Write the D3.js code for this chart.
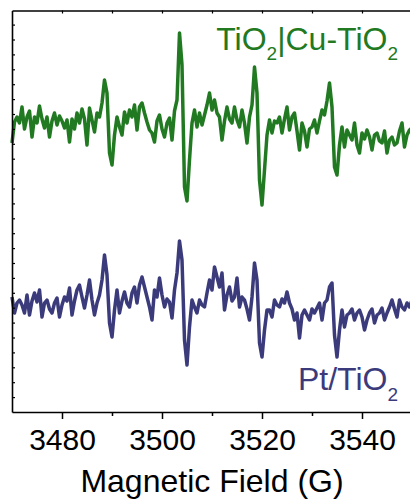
<!DOCTYPE html>
<html lang="en">
<head>
<meta charset="UTF-8">
<title>EPR spectra</title>
<script src="https://d3js.org/d3.v7.min.js"></script>
<style>
  body { margin: 0; background: #fff; }
  text { font-family: "Liberation Sans", Arial, sans-serif; }
</style>
</head>
<body>
<div id="chart"></div>
<script>
const fieldStart = 3470, fieldStep = 0.5;
const signalGreen = [
  -18,3,8,2,18,-4,8,14,-12,8,
  2,19,6,-3,8,-12,4,12,0,9,
  4,-3,5,-17,6,-4,12,2,16,6,
  -20,17,5,-7,12,8,22,45,32,-28,
  -40,-10,8,-2,-10,13,2,15,8,20,
  -5,18,22,12,3,-5,-8,-17,4,10,
  -4,-12,2,7,-15,14,25,92,60,-62,
  -76,-35,2,15,-2,12,0,10,20,32,
  15,25,12,8,-15,4,18,6,2,18,
  5,-2,15,2,-18,8,20,58,32,-55,
  -80,-45,-10,5,-8,4,2,8,-8,6,
  18,-5,8,12,-6,-25,2,-6,-22,-4,
  -2,5,-8,4,15,10,24,42,18,-42,
  -50,-20,-2,-22,-5,-10,-15,2,-20,-28,
  -8,-14,-5,-12,-25,-10,-8,-16,-18,-6,
  -28,-15,-12,-20,-18,-6,2,-22,-10,-5,
  -3];
const signalNavy = [
  8,-8,2,5,0,-8,10,-10,4,12,
  3,15,-12,2,5,-4,-8,2,7,-12,
  0,8,4,17,-10,4,15,20,8,-3,
  10,25,5,-10,2,10,25,50,30,-18,
  -32,-5,15,-8,4,13,2,-2,12,18,
  2,20,28,18,8,-2,-15,15,8,27,
  10,-2,6,3,-13,15,32,64,45,-35,
  -60,-22,5,-2,-8,5,0,-2,12,25,
  15,38,28,18,32,-5,10,18,4,8,
  27,-2,8,5,-4,-15,8,42,25,-38,
  -52,-25,-5,-5,-12,5,0,-2,6,2,
  13,2,-4,-15,-8,-33,-10,-5,-10,-15,
  -4,-8,-3,2,-15,2,5,18,22,-30,
  -52,-25,-5,-22,-10,-8,-4,-15,-8,-5,
  -12,-25,-15,-8,-4,-18,-10,-8,-3,-15,
  -8,-2,5,-4,-12,5,-2,-5,2,-2,
  5];

const xTicks = [3480, 3500, 3520, 3540];
const xMinorTicks = [3490, 3510, 3530, 3550];

// Layout
const W = 410, H = 499;
const marginL = 12, marginT = 10.5, plotR = 412, plotB = 412;
const offsetGreen = 287, offsetNavy = 107;   // vertical stacking of the two spectra
const green = "#217a21", navy = "#3b3b7c";

const svg = d3.select("#chart").append("svg")
    .attr("width", W).attr("height", H);

const x = d3.scaleLinear().domain([3470, 3550]).range([marginL, plotR]);
const y = d3.scaleLinear().domain([0, 401.5]).range([plotB, marginT]);

const line = d3.line()
    .x(d => x(d[0]))
    .y(d => y(d[1]));

const toPoints = (sig, off) => sig.map((v, i) => [fieldStart + i * fieldStep, v + off]);

svg.append("path").datum(toPoints(signalGreen, offsetGreen))
    .attr("d", line).attr("fill", "none")
    .attr("stroke", green).attr("stroke-width", 3.5)
    .attr("stroke-linejoin", "round");

svg.append("path").datum(toPoints(signalNavy, offsetNavy))
    .attr("d", line).attr("fill", "none")
    .attr("stroke", navy).attr("stroke-width", 3.5)
    .attr("stroke-linejoin", "round");

// Bottom axis with labels and minor ticks
svg.append("g").attr("transform", `translate(0,${plotB})`)
    .call(d3.axisBottom(x).tickValues(xTicks).tickSize(7).tickSizeOuter(0).tickFormat(d3.format("d")))
    .call(g => g.select(".domain").attr("stroke-width", 1.6))
    .call(g => g.selectAll(".tick line").attr("stroke-width", 1.5))
    .call(g => g.selectAll(".tick text").attr("y", 38).attr("dy", null).attr("font-size", 30)
        .attr("font-family", "Liberation Sans, Arial, sans-serif").attr("fill", "#000"));
svg.append("g").attr("transform", `translate(0,${plotB})`)
    .call(d3.axisBottom(x).tickValues(xMinorTicks).tickSize(4).tickFormat(""))
    .call(g => g.select(".domain").remove())
    .call(g => g.selectAll(".tick line").attr("stroke-width", 1.5));

// Top axis: frame with small inward ticks
svg.append("g").attr("transform", `translate(0,${marginT})`)
    .call(d3.axisTop(x).tickValues(d3.range(3480, 3550, 10)).tickSize(-3).tickSizeOuter(0).tickFormat(""))
    .call(g => g.select(".domain").attr("stroke-width", 1.6))
    .call(g => g.selectAll(".tick line").attr("stroke-width", 1.2));

// Left axis: frame with small inward ticks, no labels
svg.append("g").attr("transform", `translate(${marginL},0)`)
    .call(d3.axisLeft(y).tickValues(d3.range(14.9, 401, 14.9)).tickSize(-3).tickSizeOuter(0).tickFormat(""))
    .call(g => g.select(".domain").attr("stroke-width", 1.6))
    .call(g => g.selectAll(".tick line").attr("stroke-width", 1.2));

// Axis title
svg.append("text")
    .attr("x", 212).attr("y", 492)
    .attr("text-anchor", "middle")
    .attr("font-size", 32)
    .attr("fill", "#000")
    .text("Magnetic Field (G)");

// Series labels with subscripts
function label(parts, xr, yb, color) {
    const t = svg.append("text")
        .attr("x", xr).attr("y", yb)
        .attr("text-anchor", "end")
        .attr("font-size", 32)
        .attr("fill", color);
    parts.forEach(p => {
        t.append("tspan")
            .attr("font-size", p.sub ? 19 : 32)
            .attr("dy", p.dy || 0)
            .text(p.s);
    });
}
label([{s: "TiO"}, {s: "2", sub: true, dy: 10}, {s: "|Cu-TiO", dy: -10}, {s: "2", sub: true, dy: 10}], 398, 50, green);
label([{s: "Pt/TiO"}, {s: "2", sub: true, dy: 11}], 398, 390, navy);
</script>
</body>
</html>
